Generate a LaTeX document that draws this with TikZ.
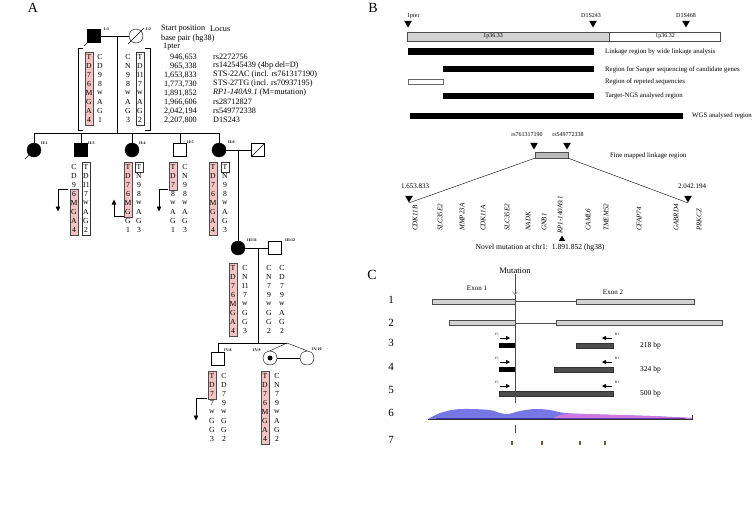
\documentclass[tikz,border=0pt]{standalone}
\usepackage{fontspec}
\setmainfont{Liberation Serif}
\usetikzlibrary{arrows.meta,shapes.geometric}

\definecolor{hapred}{RGB}{244,196,196}
\definecolor{covblue}{RGB}{118,118,228}
\definecolor{covpink}{RGB}{206,120,226}
\definecolor{dotbrown}{RGB}{130,82,52}

\newcommand{\fsz}[1]{\fontsize{#1}{#1}\selectfont}
% one column of alleles, rows 9pt apart
\newcommand{\hapcol}[4]{%
  \foreach \al [count=\k] in {#4}
    \node[allele] (#1-\k) at (#2,{#3+9*(\k-1)}) {\al};}
% box round rows #4..#5 of a column
\newcommand{\hapbox}[5]{%
  \draw[#1] ({#2-4.3},{#3+9*(#4-1)-4.8}) rectangle ({#2+4.3},{#3+9*(#5-1)+4.8});}

\begin{document}
\begin{tikzpicture}[x=1pt,y=-1pt,
  male/.style={draw, rectangle, minimum size=13pt, inner sep=0pt},
  female/.style={draw, circle, minimum size=14pt, inner sep=0pt},
  aff/.style={fill=black},
  idlab/.style={font=\bfseries\fsz{4}, inner sep=0pt, anchor=south west},
  allele/.style={font=\fsz{7.7}, inner sep=0pt},
  pinkbox/.style={draw=black!70, fill=hapred},
  whitebox/.style={draw=black!80},
  recomb/.style={-{Triangle[width=4.5pt,length=5pt]}, line width=0.7pt},
  tab/.style={font=\fsz{8.2}, inner sep=0pt},
  panel/.style={font=\fsz{14}, inner sep=0pt},
  tridown/.style={regular polygon, regular polygon sides=3, shape border rotate=180, fill=black, inner sep=0pt, minimum size=9pt},
  triup/.style={regular polygon, regular polygon sides=3, fill=black, inner sep=0pt, minimum size=7pt},
  blab/.style={font=\fsz{6.8}, inner sep=0pt, anchor=west},
  gene/.style={rotate=90, anchor=west, font=\itshape\fsz{7}, inner sep=0pt},
  exon/.style={draw=black!70, fill=gray!35},
  amp/.style={draw=black!80, fill=black!70},
  primer/.style={-{Triangle[width=4pt,length=4pt]}, line width=0.8pt},
  ptag/.style={font=\fsz{3.5}, inner sep=0pt},
  bp/.style={font=\fsz{7.5}, inner sep=0pt, anchor=west}
  ]
\useasboundingbox (0,0) rectangle (754,506);

% ---------------- A: pedigree
\node[panel] (labA) at (33,8) {A};

% generation I
\node[male, aff] (I1) at (94,36) {};
\node[female] (I2) at (136,36) {};
\draw (I1) ++(-10,10) -- ++(17,-17);
\draw (I2) ++(-8,8) -- ++(16,-16);
\node[idlab] (lI1) at (104,31) {I:1};
\node[idlab] (lI2) at (146,31) {I:2};
\draw (I1) -- (I2);
\coordinate (m1) at (117,36);
\coordinate (s1) at (117,133);
\draw (m1) -- (s1);

% generation II
\node[female, aff] (II1) at (34,150) {};
\node[male, aff] (II3) at (81,150) {};
\node[female, aff] (II4) at (132,150) {};
\node[male] (II5) at (180,150) {};
\node[female, aff] (II6) at (219,150) {};
\node[male] (sp6) at (258,150) {};
\draw (II1) ++(-9,9) -- ++(14,-14);
\draw (sp6.south west) -- (sp6.north east);
\node[idlab] (lII1) at (41,145) {II:1};
\node[idlab] (lII3) at (88,145) {II:3};
\node[idlab] (lII4) at (139,145) {II:4};
\node[idlab] (lII5) at (187,144) {II:5};
\node[idlab] (lII6) at (228,144) {II:6};
\draw (II1 |- s1) -- (II6 |- s1);
\foreach \c in {II1,II3,II4,II5,II6}
  \draw (\c |- s1) -- (\c.north);
\draw (II6) -- (sp6);
\coordinate (m6) at (238,150);

% generation III
\node[female, aff] (III11) at (238,248) {};
\node[male] (III12) at (275,248) {};
\node[idlab] (lIII11) at (247,242) {III:11};
\node[idlab] (lIII12) at (285,242) {III:12};
\draw (m6) -- (III11);
\draw (III11) -- (III12);
\coordinate (m11) at (258,248);
\coordinate (s11) at (258,343);
\draw (m11) -- (s11);

% generation IV
\node[male] (IV8) at (218,359) {};
\node[female] (IV9) at (270,358) {};
\node[female] (IV10) at (307,358) {};
\fill (IV9) circle (2.5);
\node[idlab] (lIV8) at (224,352) {IV:8};
\node[idlab] (lIV9) at (253,352) {IV:9};
\node[idlab] (lIV10) at (312,351) {IV:10};
\coordinate (tw) at (287,343);
\draw (IV8.north) |- (tw);
\draw (IV9.north) -- (tw) -- (IV10.north);
\draw (IV9) -- (IV10);

% haplotypes I
\hapbox{pinkbox}{89}{57}{1}{8}
\hapbox{whitebox}{140}{57}{1}{8}
\hapcol{hI1a}{89}{57}{T,D,7,6,M,G,A,4}
\hapcol{hI1b}{100}{57}{C,D,9,8,w,A,G,1}
\hapcol{hI2a}{128}{57}{C,N,9,8,w,A,G,3}
\hapcol{hI2b}{140}{57}{T,D,11,7,w,A,G,2}
\draw (83,48) -| (78,130) -- (83,130);
\draw (145,48) -| (150,130) -- (145,130);

% table
\node[tab, anchor=west] (hstart) at (161,29) {Start position};
\node[tab, anchor=west] (hlocus) at (210,29) {Locus};
\node[tab, anchor=west] (hbase) at (161,39) {base pair (hg38)};
\node[tab, anchor=west] (hpter) at (163,47) {1pter};
\foreach \pos/\loc [count=\k] in {{946,653}/rs2272756, {965,338}/{rs142545439 (4bp del=D)},
    {1,653,833}/{STS-22AC (incl. rs761317190)}, {1,773,730}/{STS-27TG (incl. rs70937195)},
    {1,891,852}/{\textit{RP1-140A9.1} (M=mutation)}, {1,966,606}/rs28712827,
    {2,042,194}/rs549772338, {2,207,800}/D1S243}{
  \node[tab, anchor=east] (pos-\k) at (197,{57+9*(\k-1)}) {\pos};
  \node[tab, anchor=west] (loc-\k) at (213,{57+9*(\k-1)}) {\loc};
}

% haplotypes II
\hapbox{pinkbox}{74}{167}{4}{8}
\hapbox{whitebox}{86}{167}{1}{8}
\hapbox{pinkbox}{128}{167}{1}{6}
\hapbox{whitebox}{139}{167}{1}{1}
\hapbox{pinkbox}{173}{167}{1}{3}
\hapbox{pinkbox}{213}{167}{1}{8}
\hapbox{whitebox}{225}{167}{1}{1}
\hapcol{hII3a}{74}{167}{C,D,9,6,M,G,A,4}
\hapcol{hII3b}{86}{167}{T,D,11,7,w,A,G,2}
\hapcol{hII4a}{128}{167}{T,D,7,6,M,G,G,1}
\hapcol{hII4b}{139}{167}{T,N,9,8,w,A,G,3}
\hapcol{hII5a}{173}{167}{T,D,7,8,w,A,G,1}
\hapcol{hII5b}{185}{167}{C,N,9,8,w,A,G,3}
\hapcol{hII6a}{213}{167}{T,D,7,6,M,G,A,4}
\hapcol{hII6b}{225}{167}{T,N,9,8,w,A,G,3}

% haplotypes III
\hapbox{pinkbox}{233}{268}{1}{8}
\hapcol{hIII11a}{233}{268}{T,D,7,6,M,G,A,4}
\hapcol{hIII11b}{245}{268}{C,N,11,7,w,G,G,3}
\hapcol{hIII12a}{269}{268}{C,N,7,9,w,G,G,2}
\hapcol{hIII12b}{282}{268}{C,D,7,9,w,A,G,2}

% haplotypes IV
\hapbox{pinkbox}{212}{376}{1}{3}
\hapbox{pinkbox}{265}{376}{1}{8}
\hapcol{hIV8a}{212}{376}{T,D,7,7,w,G,G,3}
\hapcol{hIV8b}{224}{376}{C,D,7,9,w,G,G,2}
\hapcol{hIV9a}{265}{376}{T,D,7,6,M,G,A,4}
\hapcol{hIV9b}{277}{376}{C,N,7,9,w,A,G,2}

% recombinations
\coordinate (rII3) at (68,189.5);
\coordinate (rII4) at (124,216.5);
\coordinate (rII5) at (168,189.5);
\coordinate (rIV8) at (207,398.5);
\draw[recomb] (rII3) -| ++(-10,22);
\draw[recomb] (rII4) -| ++(-10,-17);
\draw[recomb] (rII5) -| ++(-9,22);
\draw[recomb] (rIV8) -| ++(-11,22);

% ---------------- B: linkage region
\node[panel] (labB) at (373,8) {B};
\node[tridown] (t1pter) at (408,23) {};
\node[tridown] (tD243) at (593,23) {};
\node[tridown] (tD468) at (686,23) {};
\node[font=\fsz{6}, inner sep=0pt, anchor=base west] (l1pter) at (407,17) {1pter};
\node[font=\fsz{6}, inner sep=0pt, anchor=base] (lD243) at (591,17) {D1S243};
\node[font=\fsz{6}, inner sep=0pt, anchor=base] (lD468) at (686,17) {D1S468};
\draw[draw=black!70, fill=gray!35] (407,32) rectangle (609,41);
\draw[draw=black!70] (609,32) rectangle (720,41);
\node[font=\fsz{6}, inner sep=0pt] (b33) at (493,36.5) {1p36.33};
\node[font=\fsz{6}, inner sep=0pt] (b32) at (665,36.5) {1p36.32};
\fill (408,48) rectangle (594,55);
\fill (443,66) rectangle (594,72);
\draw[black!60] (408,79) rectangle (443,84);
\fill (443,93) rectangle (594,99);
\fill (410,113) rectangle (683,119);
\node[blab] (r1) at (605,52) {Linkage region by wide linkage analysis};
\node[blab] (r2) at (605,70) {Region for Sanger sequencing of candidate genes};
\node[blab] (r3) at (605,82) {Region of repeted sequencies};
\node[blab] (r4) at (605,96) {Target-NGS analysed region};
\node[blab] (r5) at (692,116) {WGS analysed region};

\node[tridown] (trs1) at (534,145) {};
\node[tridown] (trs2) at (567,145) {};
\node[font=\fsz{6}, inner sep=0pt] (lrs1) at (527,135) {rs761317190};
\node[font=\fsz{6}, inner sep=0pt] (lrs2) at (568,135) {rs549772338};
\node[draw=black!70, fill=gray!55, minimum width=33pt, minimum height=6pt, inner sep=0pt] (fine) at (551.5,155) {};
\node[blab] (r6) at (610,156) {Fine mapped linkage region};
\node[tridown] (tL) at (409,198) {};
\node[tridown] (tR) at (688,198) {};
\node[font=\fsz{7}, inner sep=0pt] (lL) at (415,186) {1.653.833};
\node[font=\fsz{7}, inner sep=0pt] (lR) at (692,186) {2.042.194};
\draw (fine.south west) -- (tL.corner 1);
\draw (fine.south east) -- (tR.corner 1);
\foreach \gx/\gn in {415/CDK11B, 440/SLC35E2, 462/MMP23A, 483/CDK11A, 507/SLC35E2,
    528/NADK, 544/GNB1, 588/CAML6, 606/TMEM52, 639/CFAP74, 676/GABRD4, 699/PRKCZ}
  \node[gene] (g-\gx) at (\gx,231) {\gn};
\node[gene] (g-rp1) at (560,234) {RP1-140A9.1};
\node[triup] (tmut) at (562,239) {};
\node[font=\fsz{7.6}, inner sep=0pt] (novel) at (540,248) {Novel mutation at chr1:\ \ 1.891.852 (hg38)};

% ---------------- C: exons and amplicons
\node[panel] (labC) at (372,275) {C};
\node[font=\fsz{8.5}, inner sep=0pt] (mutlab) at (515,271) {Mutation};
\foreach \n/\ny in {1/300,2/323,3/343,4/367,5/390,6/413,7/440}
  \node[font=\fsz{11}, inner sep=0pt] (row\n) at (391,\ny) {\n};
\node[font=\fsz{7}, inner sep=0pt] (ex1) at (477,288) {Exon 1};
\node[font=\fsz{7}, inner sep=0pt] (ex2) at (613,292) {Exon 2};
% 1 and 2
\draw[exon] (432,299) rectangle (515,304);
\draw[exon] (576,299) rectangle (694,304);
\draw[black!70] (515,301) -- (576,301);
\draw[exon] (449,320.5) rectangle (515,325.5);
\draw[exon] (556,320.5) rectangle (722,325.5);
\draw[black!70] (515,323) -- (556,323);
% 3, 4, 5
\foreach \py/\ay/\rx/\bp in {338/343/576/218, 362/367/554/324} {
  \draw[primer] (500,\py) -- (510,\py);
  \draw[primer] (612,\py) -- (602,\py);
  \node[ptag] at (497,\py-4) {F1};
  \node[ptag] at (617,\py-4) {R1};
  \fill (499,\ay) rectangle (515,\ay+5);
  \draw[amp] (\rx,\ay) rectangle (613,\ay+5);
  \node[bp] at (640,\ay+2.5) {\bp\ bp};
}
\draw[primer] (500,386) -- (510,386);
\draw[primer] (612,386) -- (602,386);
\node[ptag] (f5) at (497,382) {F1};
\node[ptag] (r5t) at (617,382) {R1};
\draw[amp] (499,391) rectangle (613,396);
\node[bp] (bp5) at (640,393.5) {500 bp};
% 6: coverage
\fill[covblue] plot[smooth] coordinates {(428,419) (440,413) (455,409.5) (470,409)
    (490,410) (500,413) (508,414) (520,411) (535,409) (550,410) (565,413) (600,414.5)
    (650,416) (692,418)} -- (692,419) -- cycle;
\fill[covpink] plot[smooth] coordinates {(552,419) (565,414) (600,414.5) (650,416)
    (692,418)} -- (692,419) -- cycle;
\fill[blue!45!black, opacity=0.5] (436,417.5) rectangle (685,419);
\draw[black!80] (428,419.5) -- (692,419.5) -- (692,415);
% 7
\foreach \dx in {512,542,580,605}
  \fill[dotbrown] (\dx-1,441) rectangle (\dx+1,445);
% mutation line
\coordinate (mutA) at (515,295);
\coordinate (mutB) at (515,403);
\coordinate (mutC) at (515,425);
\coordinate (mutD) at (515,433);
\draw[black!70, -{Straight Barb[length=3pt,width=5pt]}] (mutlab) -- (mutA);
\draw[black!70] (mutA) -- (mutB);
\draw[black!70] (mutC) -- (mutD);
\end{tikzpicture}
\end{document}
